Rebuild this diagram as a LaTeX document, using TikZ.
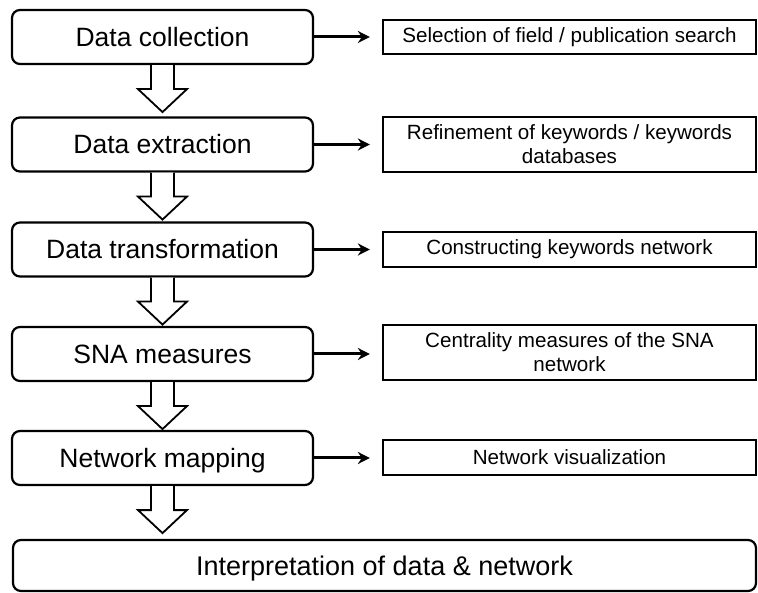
\documentclass[tikz,border=0pt]{standalone}
\usepackage{fontspec}
\setmainfont{Liberation Sans}
\usetikzlibrary{arrows.meta}
\begin{document}
\begin{tikzpicture}[x=1pt,y=-1pt,
 stage/.style={draw=black, line width=2.2pt, rounded corners=8pt, minimum width=301pt, minimum height=54pt, inner sep=0pt, text height=19pt, text depth=0pt, font=\fontsize{26.5}{30}\selectfont, text=black},
 detail/.style={draw=black, line width=2.2pt, minimum width=373pt, inner sep=0pt, align=center, font=\fontsize{20.6}{24}\selectfont, text=black},
 flow/.style={line width=3pt, -{Stealth[length=12pt,width=12pt]}, shorten >=12pt},
 blockarrow/.style={draw=black, line width=1.8pt, fill=white, line join=miter}]
\useasboundingbox (0,0) rectangle (758,593);
\node[stage] (s1) at (162.5,37) {Data collection};
\node[stage] (s2) at (162.5,144.5) {Data extraction};
\node[stage] (s3) at (162.5,249.5) {Data transformation};
\node[stage] (s4) at (162.5,354) {SNA measures};
\node[stage] (s5) at (162.5,458) {Network mapping};
\node[stage, minimum width=743pt, minimum height=51pt, font=\fontsize{27}{30}\selectfont] (s6) at (384.5,565.5) {Interpretation of data \& network};
\node[detail, minimum height=34pt] (d1) at (569.5,37) {Selection of field / publication search};
\node[detail, minimum height=55pt] (d2) at (569.5,144.5) {Refinement of keywords / keywords\\databases};
\node[detail, minimum height=35pt] (d3) at (569.5,249.5) {Constructing keywords network};
\node[detail, minimum height=55pt] (d4) at (569.5,352.5) {Centrality measures of the SNA\\network};
\node[detail, minimum height=35pt] (d5) at (569.5,457.5) {Network visualization};
\foreach \a in {s1,s2,s3,s4,s5}
  \draw[blockarrow] ([xshift=-11.5pt]\a.south) -- ++(0,24) -- ++(-13,0) -- ++(24.5,23) -- ++(24.5,-23) -- ++(-13,0) -- ++(0,-24);
\foreach \i in {1,...,5}
  \draw[flow] (s\i.east) -- (s\i.east -| d\i.west);
\end{tikzpicture}
\end{document}
